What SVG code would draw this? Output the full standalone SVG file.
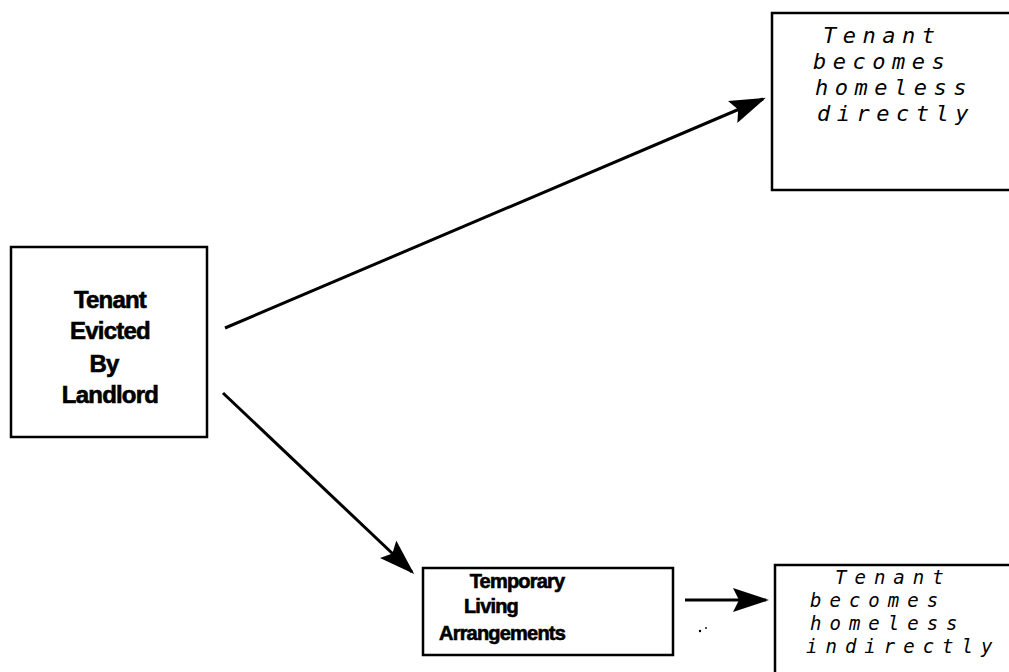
<svg xmlns="http://www.w3.org/2000/svg" width="1009" height="672" viewBox="0 0 1009 672">
<defs>
<style>
.box{fill:#fff;stroke:#000;stroke-width:2.5}
.bold{font-family:"Liberation Sans",Arial,sans-serif;font-weight:bold;fill:#000;stroke:#000;stroke-width:0.6;text-anchor:middle}
.b1{font-size:24px;letter-spacing:-0.8px}
.b2{font-size:20px;letter-spacing:-0.8px}
.ital{font-family:"DejaVu Sans Mono","Liberation Mono",monospace;font-style:oblique;fill:#000}
.i1{font-size:22px;letter-spacing:6.5px}
.i2{font-size:19px;letter-spacing:8px}
.conn{stroke:#000;stroke-width:3;fill:none}
</style>
<marker id="ah" markerWidth="12" markerHeight="8" refX="11" refY="4" orient="auto" markerUnits="strokeWidth">
<path d="M0,0 L12,4 L0,8 L2,4 z" fill="#000"/>
</marker>
</defs>
<rect width="1009" height="672" fill="#fff"/>
<g id="connectors">
<line class="conn" x1="225" y1="328" x2="763" y2="99" marker-end="url(#ah)"/>
<line class="conn" x1="223" y1="393" x2="412" y2="572" marker-end="url(#ah)"/>
<line class="conn" x1="685" y1="600" x2="766" y2="600" marker-end="url(#ah)"/>
</g>
<g id="node-evicted">
<rect class="box" x="11" y="247" width="196" height="190"/>
<text class="bold b1" x="110" y="308">Tenant</text>
<text class="bold b1" x="110" y="339">Evicted</text>
<text class="bold b1" x="104" y="372">By</text>
<text class="bold b1" x="110" y="403">Landlord</text>
</g>
<g id="node-direct">
<rect class="box" x="772" y="13" width="245" height="177"/>
<text class="ital i1" x="823" y="43">Tenant</text>
<text class="ital i1" x="813" y="69">becomes</text>
<text class="ital i1" x="815" y="95">homeless</text>
<text class="ital i1" x="817" y="121">directly</text>
</g>
<g id="node-temporary">
<rect class="box" x="423" y="568" width="250" height="87"/>
<text class="bold b2" x="517" y="588">Temporary</text>
<text class="bold b2" x="491" y="613">Living</text>
<text class="bold b2" x="502" y="640">Arrangements</text>
</g>
<g id="node-indirect">
<rect class="box" x="775" y="565" width="245" height="120"/>
<text class="ital i2" x="835" y="584">Tenant</text>
<text class="ital i2" x="810" y="607">becomes</text>
<text class="ital i2" x="810" y="630">homeless</text>
<text class="ital i2" x="806" y="653">indirectly</text>
</g>
<g id="specks" fill="#000">
<circle cx="700" cy="631" r="1.2"/>
<circle cx="706" cy="628" r="0.9"/>
</g>
</svg>
